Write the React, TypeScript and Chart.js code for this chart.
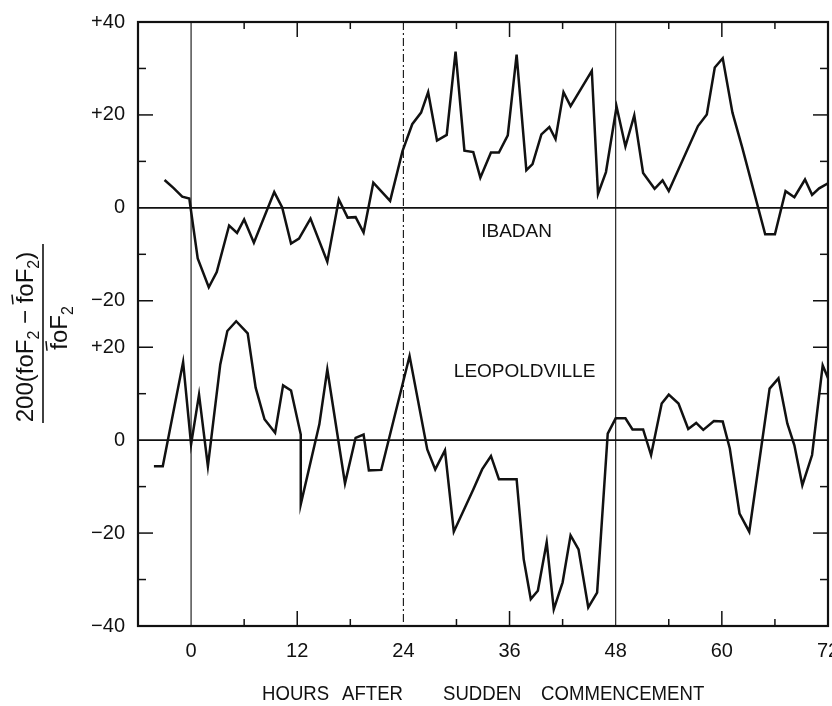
import React, { useEffect, useRef } from 'react';
import { Chart, registerables } from 'chart.js';

Chart.register(...registerables);

// ---------------- data ----------------
const ibadanHours = [
  -3, -2, -1, -0.2, 0.75, 2.0, 2.9, 4.3, 5.2, 6.0, 7.1, 9.4, 10.3, 11.3, 12.2, 13.5, 15.4, 16.7, 17.7, 18.6,
  19.5, 20.6, 22.5, 23.9, 25.0, 26.0, 26.8, 27.8, 28.9, 29.9, 30.9, 31.9, 32.7, 33.9, 34.8, 35.8, 36.8, 37.9,
  38.6, 39.6, 40.5, 41.2, 42.1, 42.9, 45.3, 46.0, 46.9, 48.1, 49.1, 50.1, 51.1, 52.4, 53.3, 54.0, 57.3, 58.3,
  59.2, 60.1, 61.2, 62.3, 64.9, 66.0, 67.2, 68.2, 69.4, 70.2, 71.0, 72.0,
];
const ibadanValues = [
  6.0, 4.3, 2.4, 2.0, -10.9, -17.1, -13.8, -3.8, -5.4, -2.5, -7.5, 3.4, 0.1, -7.7, -6.6, -2.3, -11.6, 1.8, -2.1, -2.0,
  -5.3, 5.4, 1.5, 12.2, 18.0, 20.5, 24.9, 14.5, 15.7, 33.6, 12.3, 12.0, 6.5, 11.9, 11.9, 15.6, 33.0, 8.1,
  9.4, 15.8, 17.4, 14.8, 24.9, 21.9, 29.5, 3.0, 7.7, 21.8, 13.2, 19.9, 7.5, 4.1, 5.9, 3.6, 17.6, 20.1,
  30.2, 32.2, 20.5, 13.0, -5.7, -5.7, 3.6, 2.3, 6.1, 2.8, 4.2, 5.3,
];
const leoHours = [
  -4.2, -3.2, -0.9, 0, 0.9, 1.9, 3.3, 4.1, 5.1, 6.4, 7.3, 8.3, 9.5, 10.4, 11.3, 12.4, 12.4, 14.5, 15.4, 17.4,
  18.6, 19.5, 20.1, 21.5, 24.7, 26.7, 27.6, 28.7, 29.7, 31.9, 32.9, 33.9, 34.8, 36.8, 37.6, 38.4, 39.2, 40.2,
  41.0, 42.0, 42.9, 43.8, 44.9, 45.9, 47.1, 48.0, 49.1, 49.9, 51.1, 52.0, 53.2, 54.0, 55.1, 56.2, 57.1, 57.9,
  59.1, 60.1, 60.9, 62.0, 63.1, 65.4, 66.4, 67.4, 68.2, 69.1, 70.2, 71.4, 72.1,
];
const leoValues = [
  -5.6, -5.6, 16.8, -0.9, 9.8, -5.6, 16.3, 23.5, 25.6, 23.0, 11.3, 4.5, 1.6, 11.8, 10.7, 1.2, -13.8, 3.4, 15.2, -9.3,
  0.5, 1.2, -6.5, -6.4, 18.1, -2.0, -6.3, -2.2, -19.7, -10.6, -6.3, -3.4, -8.4, -8.4, -25.6, -34.2, -32.4, -22.0,
  -36.4, -30.6, -20.5, -23.5, -36.0, -32.8, 1.4, 4.7, 4.7, 2.3, 2.3, -3.2, 7.9, 9.8, 7.9, 2.4, 3.7, 2.2,
  4.1, 4.0, -1.8, -15.8, -19.7, 11.1, 13.3, 3.6, -1.1, -9.7, -3.2, 16.1, 12.9,
];

// upper panel (Ibadan) is shifted up by this many units on the shared axis
const upperOffset = 50;

const xTickValues = [0, 12, 24, 36, 48, 60, 72];
const xMinorTicks = [-6, 6, 12, 18, 30, 36, 42, 54, 60, 66];
const yTickPositions = [-40, -20, 0, 20, 30, 50, 70, 90];
const yTickLabels = ['\u221240', '\u221220', '0', '+20', '\u221220', '0', '+20', '+40'];
const yMinorTicks = [-30, -20, -10, 10, 20, 30, 40, 60, 70, 80];
const yMajorTicks = [-20, 20, 30, 70];
const referenceHours = [0, 24, 48];
const zeroLines = [0, upperOffset];
const stationLabels = ['IBADAN', 'LEOPOLDVILLE'];
const stationAnchors = [
  { x: 36.8, y: 43.7 },
  { x: 37.7, y: 13.6 },
];
const xTitleWords = ['HOURS', 'AFTER', 'SUDDEN', 'COMMENCEMENT'];

const FONT = '"Liberation Sans", Arial, sans-serif';
const INK = '#111';

type Part = { t: string; sub?: boolean; bar?: boolean };
const numeratorParts: Part[] = [
  { t: '200(' }, { t: 'f' }, { t: 'o' }, { t: 'F' }, { t: '2', sub: true }, { t: ' \u2212 ' },
  { t: 'f', bar: true }, { t: 'o' }, { t: 'F' }, { t: '2', sub: true }, { t: ')' },
];
const denominatorParts: Part[] = [{ t: 'f', bar: true }, { t: 'o' }, { t: 'F' }, { t: '2', sub: true }];

function drawRich(ctx: CanvasRenderingContext2D, parts: Part[], cx: number, cy: number) {
  const main = `24px ${FONT}`;
  const small = `16px ${FONT}`;
  ctx.save();
  ctx.translate(cx, cy);
  ctx.rotate(-Math.PI / 2);
  ctx.textBaseline = 'alphabetic';
  ctx.textAlign = 'left';
  let total = 0;
  const widths = parts.map((p) => {
    ctx.font = p.sub ? small : main;
    const w = ctx.measureText(p.t).width;
    total += w;
    return w;
  });
  let x = -total / 2;
  parts.forEach((p, i) => {
    ctx.font = p.sub ? small : main;
    ctx.fillText(p.t, x, p.sub ? 6 : 0);
    if (p.bar) {
      ctx.beginPath();
      ctx.lineWidth = 1.5;
      ctx.moveTo(x - 1, -20);
      ctx.lineTo(x + widths[i] + 2, -21);
      ctx.stroke();
    }
    x += widths[i];
  });
  ctx.restore();
}

const decor = {
  id: 'decor',
  beforeDatasetsDraw(chart: any) {
    const { ctx, chartArea: a, scales } = chart;
    const x = scales.x;
    const y = scales.y;
    const line = (x1: number, y1: number, x2: number, y2: number) => {
      ctx.beginPath();
      ctx.moveTo(x1, y1);
      ctx.lineTo(x2, y2);
      ctx.stroke();
    };
    ctx.save();
    ctx.strokeStyle = INK;
    ctx.lineWidth = 1.7;
    zeroLines.forEach((v) => {
      const py = y.getPixelForValue(v);
      line(a.left, py, a.right, py);
    });
    ctx.lineWidth = 1.1;
    referenceHours.forEach((h) => {
      const px = x.getPixelForValue(h);
      ctx.setLineDash(h === 24 ? [8, 3, 2, 3] : []);
      line(px, a.top, px, a.bottom);
    });
    ctx.setLineDash([]);
    ctx.lineWidth = 1.5;
    xMinorTicks.forEach((h) => {
      const px = x.getPixelForValue(h);
      const len = h % 12 === 0 ? 15 : 7;
      line(px, a.bottom, px, a.bottom - len);
      line(px, a.top, px, a.top + len);
    });
    yMinorTicks.forEach((v) => {
      const py = y.getPixelForValue(v);
      const len = yMajorTicks.includes(v) ? 15 : 8;
      line(a.left, py, a.left + len, py);
      line(a.right, py, a.right - len, py);
    });
    ctx.restore();
  },
  afterDatasetsDraw(chart: any) {
    const { ctx, chartArea: a } = chart;
    ctx.save();
    ctx.strokeStyle = INK;
    ctx.lineWidth = 2.2;
    ctx.strokeRect(a.left, a.top, a.right - a.left, a.bottom - a.top);
    ctx.restore();
  },
  afterDraw(chart: any) {
    const { ctx, scales } = chart;
    ctx.save();
    ctx.fillStyle = INK;
    ctx.strokeStyle = INK;
    // station names
    ctx.font = `19px ${FONT}`;
    ctx.textAlign = 'center';
    ctx.textBaseline = 'alphabetic';
    stationLabels.forEach((s, i) => {
      ctx.fillText(s, scales.x.getPixelForValue(stationAnchors[i].x), scales.y.getPixelForValue(stationAnchors[i].y));
    });
    // x title
    ctx.font = `20px ${FONT}`;
    ctx.textAlign = 'left';
    const wordX = [262, 342, 443, 541];
    xTitleWords.forEach((w, i) => {
      ctx.save();
      ctx.translate(wordX[i], 700);
      ctx.scale(0.93, 1.05);
      ctx.fillText(w, 0, 0);
      ctx.restore();
    });
    // y label fraction
    drawRich(ctx, numeratorParts, 33, 337);
    drawRich(ctx, denominatorParts, 67, 328);
    ctx.lineWidth = 1.6;
    ctx.beginPath();
    ctx.moveTo(43, 244);
    ctx.lineTo(43, 423);
    ctx.stroke();
    ctx.restore();
  },
};

export default function App() {
  const ref = useRef<HTMLCanvasElement | null>(null);
  useEffect(() => {
    if (!ref.current) return;
    const chart = new Chart(ref.current, {
      type: 'scatter',
      data: {
        datasets: [
          {
            label: 'IBADAN',
            data: ibadanHours.map((h, i) => ({ x: h, y: ibadanValues[i] + upperOffset })),
            showLine: true,
            borderColor: INK,
            borderWidth: 2.5,
            pointRadius: 0,
            tension: 0,
          },
          {
            label: 'LEOPOLDVILLE',
            data: leoHours.map((h, i) => ({ x: h, y: leoValues[i] })),
            showLine: true,
            borderColor: INK,
            borderWidth: 2.5,
            pointRadius: 0,
            tension: 0,
          },
        ],
      },
      options: {
        responsive: false,
        animation: false,
        devicePixelRatio: 1,
        layout: { padding: { left: 0, right: 4, top: 22, bottom: 0 } },
        plugins: { legend: { display: false }, tooltip: { enabled: false } },
        scales: {
          x: {
            type: 'linear',
            min: -6,
            max: 72,
            grid: { display: false, drawTicks: false },
            border: { display: false },
            afterBuildTicks: (s: any) => {
              s.ticks = xTickValues.map((v) => ({ value: v }));
            },
            afterFit: (s: any) => {
              s.height = 80;
              s.paddingLeft = 0;
              s.paddingRight = 0;
            },
            ticks: {
              font: { family: FONT, size: 20 },
              color: INK,
              padding: 13,
              maxRotation: 0,
              autoSkip: false,
              callback: (v: any) => String(v),
            },
          },
          y: {
            type: 'linear',
            min: -40,
            max: 90,
            grid: { display: false, drawTicks: false },
            border: { display: false },
            afterBuildTicks: (s: any) => {
              s.ticks = yTickPositions.map((v) => ({ value: v }));
            },
            afterFit: (s: any) => {
              s.width = 138;
              s.paddingTop = 0;
              s.paddingBottom = 0;
            },
            ticks: {
              font: { family: FONT, size: 20 },
              color: INK,
              padding: 13,
              autoSkip: false,
              callback: (_v: any, i: number) => yTickLabels[i],
            },
          },
        },
      },
      plugins: [decor],
    } as any);
    return () => chart.destroy();
  }, []);
  return (
    <div style={{ position: 'absolute', left: 0, top: 0, width: 832, height: 706, background: '#fff' }}>
      <canvas ref={ref} width={832} height={706} style={{ display: 'block' }} />
    </div>
  );
}
